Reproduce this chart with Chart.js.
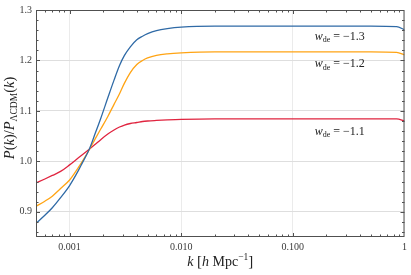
<!DOCTYPE html>
<html><head><meta charset="utf-8">
<script src="https://cdn.jsdelivr.net/npm/chart.js@4"></script>
<style>html,body{margin:0;padding:0;background:#fff}#wrap{width:411px;height:275px;position:relative}</style>
</head><body><div id="wrap"><canvas id="c"></canvas></div>
<script>
// ---- data ----
const kValues = [0.0005, 0.0006, 0.0007, 0.00083, 0.001, 0.0012, 0.0013, 0.0015, 0.0017, 0.0019, 0.0022, 0.0025, 0.0028, 0.0031, 0.0035, 0.004, 0.0045, 0.005, 0.006, 0.0075, 0.01, 0.02, 0.05, 0.1, 0.2, 0.5, 0.85, 1.0];
const ratioW13 = [0.877, 0.893, 0.908, 0.928, 0.952, 0.982, 0.997, 1.024, 1.056, 1.085, 1.126, 1.161, 1.190, 1.210, 1.227, 1.241, 1.248, 1.253, 1.259, 1.263, 1.266, 1.268, 1.268, 1.268, 1.268, 1.268, 1.267, 1.261];
const ratioW12 = [0.911, 0.921, 0.931, 0.946, 0.963, 0.988, 1.000, 1.023, 1.045, 1.064, 1.089, 1.113, 1.134, 1.155, 1.176, 1.192, 1.200, 1.205, 1.210, 1.213, 1.215, 1.217, 1.217, 1.217, 1.217, 1.217, 1.216, 1.211];
const ratioW11 = [0.957, 0.965, 0.972, 0.980, 0.993, 1.007, 1.013, 1.024, 1.034, 1.043, 1.054, 1.062, 1.068, 1.072, 1.075, 1.077, 1.079, 1.080, 1.081, 1.082, 1.083, 1.084, 1.084, 1.084, 1.084, 1.084, 1.084, 1.080];
const seriesNames = ["w_de = −1.3", "w_de = −1.2", "w_de = −1.1"];
const annValueText = ["−1.3", "−1.2", "−1.1"];
const annK = [0.157, 0.157, 0.157];
const annRatio = [1.249, 1.194, 1.061];
const xMajorTicks = [0.001, 0.01, 0.1, 1];
const xTickLabels = ["0.001", "0.010", "0.100", "1"];
const yMajorTicks = [0.9, 1.0, 1.1, 1.2, 1.3];
const yTickLabels = ["0.9", "1.0", "1.1", "1.2", "1.3"];
const xMin = 0.0005, xMax = 1, yMin = 0.85, yMax = 1.3;

const SERIF = "'Liberation Serif', 'DejaVu Serif', serif";
Chart.defaults.font.family = SERIF;

function near(a, b) { return Math.abs(a - b) < 1e-9 * Math.max(1, Math.abs(b)); }
function xIsMajor(v) { return xMajorTicks.some(m => near(v, m)); }
function yIsMajor(v) { return yMajorTicks.some(m => Math.abs(v - m) < 1e-6); }

// minor tick positions (axis decoration)
const xMinor = [];
for (let e = -4; e <= 0; e++) for (let m = 2; m <= 9; m++) { const v = m * Math.pow(10, e); if (v >= xMin && v <= xMax) xMinor.push(v); }
const yMinor = [];
for (let i = 43; i <= 65; i++) { const v = +(i * 0.02).toFixed(2); if (!yIsMajor(v)) yMinor.push(v); }

const toPts = arr => kValues.map((k, i) => ({ x: k, y: arr[i] }));

function drawRich(ctx, segs, x, y, align) {
  let w = 0;
  segs.forEach(s => { ctx.font = s.font; s.w = ctx.measureText(s.t).width; w += s.w; });
  let cx = align === 'center' ? x - w / 2 : x;
  ctx.textBaseline = 'alphabetic'; ctx.textAlign = 'left';
  segs.forEach(s => { ctx.font = s.font; ctx.fillText(s.t, cx, y + (s.dy || 0)); cx += s.w; });
}

const decorPlugin = {
  id: 'decor',
  afterDraw(chart) {
    const { ctx, chartArea: a, scales } = chart;
    const xs = scales.x, ys = scales.y;
    ctx.save();
    // frame
    ctx.strokeStyle = '#505050'; ctx.lineWidth = 1;
    ctx.strokeRect(a.left + 0.5, a.top + 0.5, a.right - a.left - 1, a.bottom - a.top - 1);
    // inside ticks
    ctx.beginPath();
    const tick = (vals, len) => {
      vals.forEach(v => {
        const px = Math.round(xs.getPixelForValue(v)) + 0.5;
        ctx.moveTo(px, a.bottom); ctx.lineTo(px, a.bottom - len);
        ctx.moveTo(px, a.top); ctx.lineTo(px, a.top + len);
      });
    };
    const ticky = (vals, len) => {
      vals.forEach(v => {
        const py = Math.round(ys.getPixelForValue(v)) + 0.5;
        ctx.moveTo(a.left, py); ctx.lineTo(a.left + len, py);
        ctx.moveTo(a.right, py); ctx.lineTo(a.right - len, py);
      });
    };
    tick(xMajorTicks.filter(v => v > xMin && v < xMax), 4);
    tick(xMinor, 2.5);
    ticky(yMajorTicks.filter(v => v > yMin && v < yMax), 4);
    ticky(yMinor, 2.5);
    ctx.stroke();

    ctx.fillStyle = '#222';
    // annotations
    annValueText.forEach((t, i) => {
      const px = xs.getPixelForValue(annK[i]);
      const py = ys.getPixelForValue(annRatio[i]) + 4;
      drawRich(ctx, [
        { t: 'w', font: 'italic 12px ' + SERIF },
        { t: 'de', font: '8px ' + SERIF, dy: 2.5 },
        { t: ' = ' + t, font: '12px ' + SERIF }
      ], px, py, 'left');
    });
    // x title
    drawRich(ctx, [
      { t: 'k', font: 'italic 14px ' + SERIF },
      { t: ' [', font: '15px ' + SERIF },
      { t: 'h', font: 'italic 14px ' + SERIF },
      { t: ' Mpc', font: '14px ' + SERIF },
      { t: '−1', font: '9.5px ' + SERIF, dy: -6 },
      { t: ']', font: '15px ' + SERIF }
    ], (a.left + a.right) / 2, 266, 'center');
    // y title
    ctx.save();
    ctx.translate(14, 118);
    ctx.rotate(-Math.PI / 2);
    drawRich(ctx, [
      { t: 'P', font: 'italic 14.5px ' + SERIF },
      { t: '(', font: '14.5px ' + SERIF },
      { t: 'k', font: 'italic 14.5px ' + SERIF },
      { t: ')', font: '14.5px ' + SERIF },
      { t: '/', font: '14.5px ' + SERIF },
      { t: 'P', font: 'italic 14.5px ' + SERIF },
      { t: 'ΛCDM', font: '9.5px ' + SERIF, dy: 2.5 },
      { t: '(', font: '14.5px ' + SERIF },
      { t: 'k', font: 'italic 14.5px ' + SERIF },
      { t: ')', font: '14.5px ' + SERIF }
    ], 0, 0, 'center');
    ctx.restore();
    ctx.restore();
  }
};

const colors = ['#2f6aa6', '#ffa414', '#e0243f'];
const series = [ratioW13, ratioW12, ratioW11];

new Chart(document.getElementById('c'), {
  type: 'line',
  data: {
    datasets: series.map((s, i) => ({
      label: seriesNames[i], data: toPts(s), borderColor: colors[i], borderWidth: 1.3,
      pointRadius: 0, fill: false, cubicInterpolationMode: 'monotone'
    }))
  },
  options: {
    responsive: true, maintainAspectRatio: false, animation: false,
    layout: { padding: { top: 7, right: 3, left: 0, bottom: 0 } },
    plugins: { legend: { display: false }, tooltip: { enabled: false } },
    scales: {
      x: {
        type: 'logarithmic', min: xMin, max: xMax,
        afterBuildTicks: sc => { sc.ticks = xMajorTicks.concat(xMinor).sort((a, b) => a - b).map(v => ({ value: v, major: xIsMajor(v) })); },
        afterFit: sc => { sc.height = 38; },
        ticks: {
          autoSkip: false, maxRotation: 0, padding: 4, color: '#3a3a3a', font: { size: 10, family: SERIF },
          callback: v => { const i = xMajorTicks.findIndex(m => near(v, m)); return i >= 0 ? xTickLabels[i] : ''; }
        },
        grid: { drawTicks: false, color: c => (c.tick && xIsMajor(c.tick.value)) ? '#ebebeb' : 'rgba(0,0,0,0)', lineWidth: 1 },
        border: { display: false }
      },
      y: {
        type: 'linear', min: yMin, max: yMax,
        afterBuildTicks: sc => { sc.ticks = yMajorTicks.concat(yMinor).sort((a, b) => a - b).map(v => ({ value: v })); },
        afterFit: sc => { sc.width = 36; },
        ticks: {
          autoSkip: false, padding: 4, color: '#3a3a3a', font: { size: 10, family: SERIF },
          callback: v => { const i = yMajorTicks.findIndex(m => Math.abs(v - m) < 1e-6); return i >= 0 ? yTickLabels[i] : ''; }
        },
        grid: { drawTicks: false, color: c => (c.tick && yIsMajor(c.tick.value)) ? '#dedede' : 'rgba(0,0,0,0)', lineWidth: 1 },
        border: { display: false }
      }
    }
  },
  plugins: [decorPlugin]
});
</script></body></html>
